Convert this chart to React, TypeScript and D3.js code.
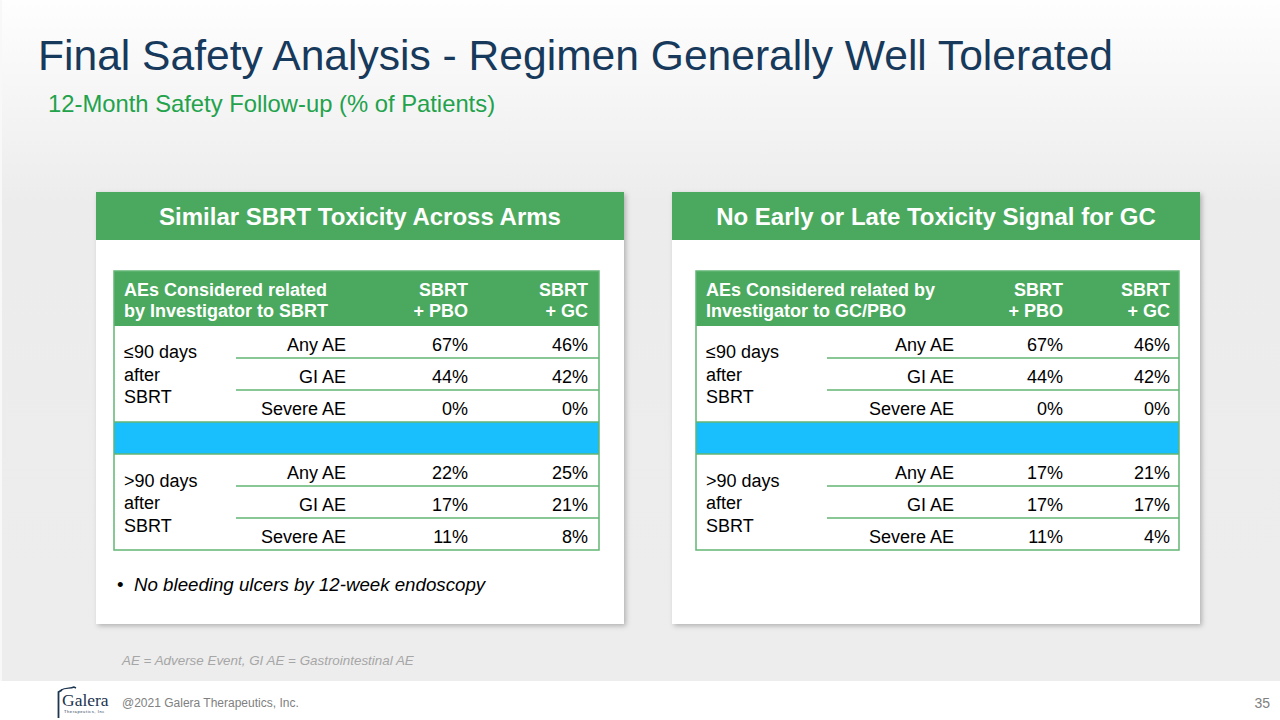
import React from "react";
import * as d3 from "d3";

const titleText = "Final Safety Analysis - Regimen Generally Well Tolerated";
const subtitleText = "12-Month Safety Follow-up (% of Patients)";
const panelTitles = ["Similar SBRT Toxicity Across Arms", "No Early or Late Toxicity Signal for GC"];
const leftHeader = ["AEs Considered related", "by Investigator to SBRT"];
const rightHeader = ["AEs Considered related by", "Investigator to GC/PBO"];
const armLabels = [["SBRT", "+ PBO"], ["SBRT", "+ GC"]];
const periods = [["≤90 days", "after", "SBRT"], [">90 days", "after", "SBRT"]];
const aeTypes = ["Any AE", "GI AE", "Severe AE"];
// left table (related to SBRT)
const sbrtPbo = [67, 44, 0, 22, 17, 11];
const sbrtGc = [46, 42, 0, 25, 21, 8];
// right table (related to GC/PBO)
const gcPbo = [67, 44, 0, 17, 17, 11];
const gcGc = [46, 42, 0, 21, 17, 4];
const bulletText = "No bleeding ulcers by 12-week endoscopy";
const footnoteText = "AE = Adverse Event, GI AE = Gastrointestinal AE";
const copyrightText = "@2021 Galera Therapeutics, Inc.";
const pageNumber = "35";

const FONT = "'Liberation Sans', Arial, sans-serif";
const GREEN = "#4aa95e";
const LINE = "#62b574";
const BLUE = "#19befc";

type TableProps = {
  x0: number; x1: number; sepX: number; labelX: number;
  colRights: number[]; header: string[]; pbo: number[]; gc: number[];
};

function Table({ x0, x1, sepX, labelX, colRights, header, pbo, gc }: TableProps) {
  const headTop = 271;
  const bodyTop = 326;
  // 7 body rows: 3 early, 1 blue spacer, 3 late
  const y = d3.scaleLinear().domain([0, 7]).range([bodyTop, 550]);
  const rowIdx = [0, 1, 2, 4, 5, 6];
  const fmt = (v: number) => `${v}%`;
  return (
    <g fontFamily={FONT}>
      <rect x={x0} y={headTop} width={x1 - x0} height={bodyTop - headTop} fill={GREEN} />
      <rect x={x0} y={bodyTop} width={x1 - x0} height={y(7) - bodyTop} fill="#fff" />
      <rect x={x0} y={y(3)} width={x1 - x0} height={y(4) - y(3)} fill={BLUE} />
      {header.map((h, i) => (
        <text key={h} x={labelX} y={295.5 + i * 21.5} fill="#fff" fontWeight="bold" fontSize={18}>{h}</text>
      ))}
      {armLabels.map((a, c) => a.map((t, i) => (
        <text key={c + t} x={colRights[c + 1]} y={295.5 + i * 21.5} fill="#fff" fontWeight="bold" fontSize={18} textAnchor="end">{t}</text>
      )))}
      {[1, 2, 5, 6].map((r) => (
        <line key={r} x1={sepX} x2={x1} y1={y(r)} y2={y(r)} stroke={LINE} strokeWidth={1.5} />
      ))}
      {[3, 4].map((r) => (
        <line key={"b" + r} x1={x0} x2={x1} y1={y(r)} y2={y(r)} stroke={LINE} strokeWidth={1.5} />
      ))}
      <rect x={x0} y={headTop} width={x1 - x0} height={y(7) - headTop} fill="none" stroke={LINE} strokeWidth={1.5} />
      {periods.map((p, b) => p.map((t, i) => (
        <text key={b + t} x={labelX} y={358 + b * 128.5 + i * 22.5} fontSize={18} fill="#000">{t}</text>
      )))}
      {rowIdx.map((r, k) => (
        <g key={r} fontSize={18} fill="#000" textAnchor="end">
          <text x={colRights[0]} y={y(r + 1) - 7}>{aeTypes[k % 3]}</text>
          <text x={colRights[1]} y={y(r + 1) - 7}>{fmt(pbo[k])}</text>
          <text x={colRights[2]} y={y(r + 1) - 7}>{fmt(gc[k])}</text>
        </g>
      ))}
    </g>
  );
}

export default function App() {
  return (
    <svg width={1280} height={720} style={{ position: "absolute", left: 0, top: 0, display: "block" }}>
      <defs>
        <linearGradient id="bg" x1="0" y1="0" x2="0" y2="1">
          <stop offset="0" stopColor="#fefefe" />
          <stop offset="0.3" stopColor="#ececec" />
          <stop offset="1" stopColor="#ededed" />
        </linearGradient>
        <filter id="sh" x="-5%" y="-5%" width="110%" height="110%">
          <feDropShadow dx={2} dy={2} stdDeviation={2.5} floodColor="#000" floodOpacity={0.25} />
        </filter>
      </defs>
      <rect x={0} y={0} width={1280} height={681} fill="url(#bg)" />
      <rect x={0} y={0} width={2} height={681} fill="#f8f8f8" />
      <rect x={0} y={681} width={1280} height={39} fill="#fff" />

      <text x={38} y={70} fontFamily={FONT} fontSize={42.3} fill="#17395b" textLength={1075} lengthAdjust="spacingAndGlyphs">{titleText}</text>
      <text x={48} y={112} fontFamily={FONT} fontSize={23.8} fill="#22a24b">{subtitleText}</text>

      {[96, 672].map((px, i) => (
        <g key={px}>
          <rect x={px} y={192} width={528} height={432} fill="#fff" filter="url(#sh)" />
          <rect x={px} y={192} width={528} height={48} fill={GREEN} />
          <text x={px + 264} y={225} textAnchor="middle" fontFamily={FONT} fontWeight="bold" fontSize={24} fill="#fff">{panelTitles[i]}</text>
        </g>
      ))}

      <Table x0={114} x1={599} sepX={236} labelX={124} colRights={[346, 468, 588]} header={leftHeader} pbo={sbrtPbo} gc={sbrtGc} />
      <Table x0={696} x1={1179} sepX={827} labelX={706} colRights={[954, 1063, 1170]} header={rightHeader} pbo={gcPbo} gc={gcGc} />

      <text x={117} y={591} fontFamily={FONT} fontSize={18.7} fill="#000">•</text>
      <text x={134} y={591} fontFamily={FONT} fontSize={18.7} fontStyle="italic" fill="#000">{bulletText}</text>

      <text x={122} y={665} fontFamily={FONT} fontSize={13.4} fontStyle="italic" fill="#a6a6a6">{footnoteText}</text>

      {/* logo */}
      <g>
        <path d="M62,690 L58.5,692 L58.5,718" fill="none" stroke="#1c3550" strokeWidth={1.8} />
        <path d="M61,690 C66,687 70,689 74,687 L76,688" fill="none" stroke="#1c3550" strokeWidth={1.4} />
        <text x={62} y={706} fontFamily="'Liberation Serif', 'DejaVu Serif', serif" fontSize={17.5} fill="#1c3550">Galera</text>
        <text x={64} y={713} fontFamily={FONT} fontSize={4} fill="#1c3550" letterSpacing={0.6}>Therapeutics, Inc</text>
      </g>
      <text x={122} y={707} fontFamily={FONT} fontSize={12} fill="#808080">{copyrightText}</text>
      <text x={1270} y={708} textAnchor="end" fontFamily={FONT} fontSize={14} fill="#808080">{pageNumber}</text>
    </svg>
  );
}
